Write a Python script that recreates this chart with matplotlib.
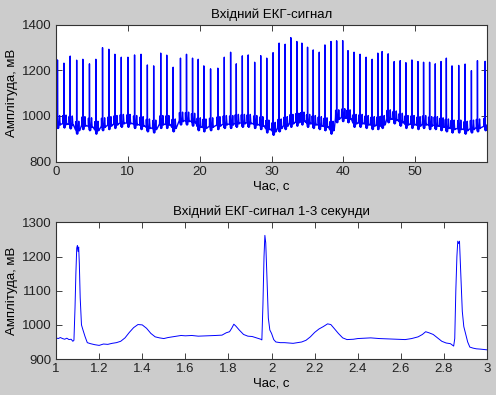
import matplotlib
matplotlib.use("Agg")
import matplotlib.pyplot as plt
import numpy as np

# ---------------- data ----------------
# Top panel: R-peak times (s), R-peak amplitudes (mV) and isoelectric level per beat (mV)
beat_t = [0.20, 1.10, 1.97, 2.87, 3.73, 4.65, 5.54, 6.47, 7.35, 8.19, 9.08, 10.01,
          10.93, 11.83, 12.71, 13.59, 14.57, 15.41, 16.30, 17.32, 18.16, 19.00, 19.79,
          20.57, 21.51, 22.52, 23.42, 24.30, 25.09, 25.93, 26.75, 27.65, 28.49, 29.33,
          30.21, 31.05, 31.89, 32.68, 33.52, 34.22, 35.01, 35.80, 36.64, 37.43, 38.27,
          39.06, 39.90, 40.64, 41.48, 42.32, 43.16, 44.00, 44.79, 45.39, 46.23, 47.07,
          47.91, 48.70, 49.54, 50.38, 51.16, 52.00, 52.79, 53.59, 54.33, 55.12, 56.05,
          56.94, 57.82, 58.66, 59.73]
beat_peak = [1246, 1232, 1263, 1245, 1249, 1229, 1249, 1300, 1293, 1271, 1258, 1258,
             1268, 1271, 1224, 1220, 1276, 1267, 1214, 1254, 1271, 1254, 1249,
             1220, 1207, 1210, 1258, 1280, 1229, 1264, 1268, 1236, 1265, 1254,
             1278, 1320, 1315, 1344, 1327, 1320, 1302, 1290, 1280, 1312, 1327,
             1330, 1331, 1287, 1280, 1271, 1258, 1249, 1276, 1283, 1273, 1239,
             1243, 1234, 1246, 1239, 1236, 1236, 1229, 1239, 1254, 1220, 1222,
             1228, 1199, 1243, 1240]
beat_base = [960, 962, 958, 935, 955, 950, 935, 950, 955, 960, 965, 965,
             960, 955, 945, 940, 960, 960, 945, 975, 975, 970, 950,
             945, 950, 955, 960, 960, 965, 965, 965, 960, 955, 940,
             930, 945, 955, 965, 970, 975, 965, 960, 955, 950, 935,
             985, 990, 985, 965, 965, 960, 955, 955, 960, 985, 980,
             970, 960, 960, 955, 960, 955, 955, 950, 945, 940, 940,
             935, 940, 945, 950]
# beat shape: time offset from R (s), level above baseline (mV)
shape_dt = [-0.17, -0.15, -0.14, -0.12, -0.08, -0.02, -0.012, 0.015, 0.02, 0.04,
            0.06, 0.18, 0.23, 0.29, 0.33, 0.38, 0.45]
shape_dv = [5, 20, 40, 20, 5, -5, -12, 40, 25, -10, -15, -12, 10, 42, 25, 0, 3]

# Bottom panel: signal between 1 and 3 s
seg_t = [1.000, 1.010, 1.020, 1.030, 1.040, 1.050, 1.060, 1.070, 1.078, 1.083, 1.088,
         1.092, 1.096, 1.099, 1.102, 1.105, 1.108, 1.112, 1.118, 1.125, 1.135, 1.145,
         1.160, 1.180, 1.200, 1.220, 1.240, 1.260, 1.280, 1.300, 1.320, 1.340, 1.360,
         1.380, 1.400, 1.420, 1.440, 1.460, 1.480, 1.500, 1.520, 1.550, 1.580, 1.600,
         1.630, 1.660, 1.700, 1.740, 1.770, 1.790, 1.805, 1.815, 1.825, 1.835, 1.850,
         1.870, 1.890, 1.910, 1.930, 1.950, 1.955, 1.960, 1.965, 1.969, 1.973, 1.978,
         1.985, 1.992, 2.000, 2.010, 2.020, 2.040, 2.060, 2.080, 2.100, 2.120, 2.140,
         2.160, 2.180, 2.200, 2.220, 2.240, 2.260, 2.275, 2.290, 2.310, 2.330, 2.350,
         2.380, 2.400, 2.430, 2.460, 2.500, 2.540, 2.580, 2.620, 2.650, 2.680, 2.700,
         2.715, 2.730, 2.750, 2.770, 2.790, 2.810, 2.830, 2.845, 2.850, 2.855, 2.860,
         2.864, 2.868, 2.872, 2.878, 2.885, 2.892, 2.900, 2.910, 2.920, 2.935, 2.950,
         2.970, 2.985, 3.000]
seg_v = [962, 960, 963, 960, 958, 961, 957, 958, 952, 955, 1050,
         1150, 1225, 1232, 1215, 1228, 1180, 1080, 1000, 985, 965, 948,
         945, 942, 940, 944, 943, 946, 948, 952, 962, 978, 992,
         1001, 1000, 990, 975, 965, 962, 960, 963, 966, 969, 968,
         969, 967, 968, 969, 970, 977, 980, 990, 1002, 996, 985,
         972, 967, 966, 962, 958, 956, 1060, 1200, 1262, 1240, 1150,
         1020, 985, 975, 957, 950, 948, 948, 947, 946, 948, 950,
         955, 965, 978, 988, 995, 1003, 1001, 990, 975, 962, 957,
         958, 960, 961, 962, 960, 959, 958, 957, 960, 965, 972,
         980, 977, 972, 962, 952, 947, 945, 938, 960, 1100, 1200,
         1245, 1238, 1245, 1150, 1040, 995, 975, 950, 935, 932, 930,
         929, 928, 927]

top_title = "Вхідний ЕКГ-сигнал"
bottom_title = "Вхідний ЕКГ-сигнал 1-3 секунди"
x_label = "Час, с"
y_label = "Амплітуда, мВ"

# ---------------- build top trace from beats ----------------
top_t, top_v = [0.0], [beat_base[0]]
for tr, pk, bs in zip(beat_t, beat_peak, beat_base):
    pre = [(tr + d, bs + v) for d, v in zip(shape_dt, shape_dv) if d < 0]
    post = [(tr + d, bs + v) for d, v in zip(shape_dt, shape_dv) if d > 0]
    for tt, vv in pre + [(tr, pk)] + post:
        if 0 <= tt <= 60 and tt > top_t[-1]:
            top_t.append(tt)
            top_v.append(vv)

# ---------------- figure ----------------
plt.rcParams['font.family'] = ['Liberation Sans', 'DejaVu Sans']
plt.rcParams['font.size'] = 9.5
bg = '#cccccc'
fig = plt.figure(figsize=(4.96, 3.95), dpi=100, facecolor=bg)

ax1 = fig.add_axes([0.113, 0.591, 0.869, 0.346])
ax2 = fig.add_axes([0.113, 0.091, 0.869, 0.346])

ax1.plot(top_t, top_v, color='#0000ff', lw=1.0)
ax1.set_xlim(0, 60)
ax1.set_ylim(800, 1400)
ax1.set_xticks([0, 10, 20, 30, 40, 50])
ax1.set_yticks([800, 1000, 1200, 1400])
ax1.set_title(top_title, fontsize=9.5, pad=5)
ax1.set_xlabel(x_label, fontsize=9.5, labelpad=2)
ax1.set_ylabel(y_label, fontsize=9.5, labelpad=3)

ax2.plot(seg_t, seg_v, color='#0000ff', lw=0.7)
ax2.set_xlim(1, 3)
ax2.set_ylim(900, 1300)
xt = [1, 1.2, 1.4, 1.6, 1.8, 2, 2.2, 2.4, 2.6, 2.8, 3]
ax2.set_xticks(xt)
ax2.set_xticklabels([f"{v:g}" for v in xt])
ax2.set_yticks([900, 1000, 1100, 1200, 1300])
ax2.set_title(bottom_title, fontsize=9.5, pad=5)
ax2.set_xlabel(x_label, fontsize=9.5, labelpad=2)
ax2.set_ylabel(y_label, fontsize=9.5, labelpad=3)

for ax in (ax1, ax2):
    ax.set_facecolor('white')
    ax.tick_params(direction='in', top=True, right=True, length=4, width=0.6,
                   labelsize=9.5, colors='#222222', pad=3)
    for s in ax.spines.values():
        s.set_color('#333333')
        s.set_linewidth(0.8)

fig.savefig('out.png', dpi=100, facecolor=bg)
